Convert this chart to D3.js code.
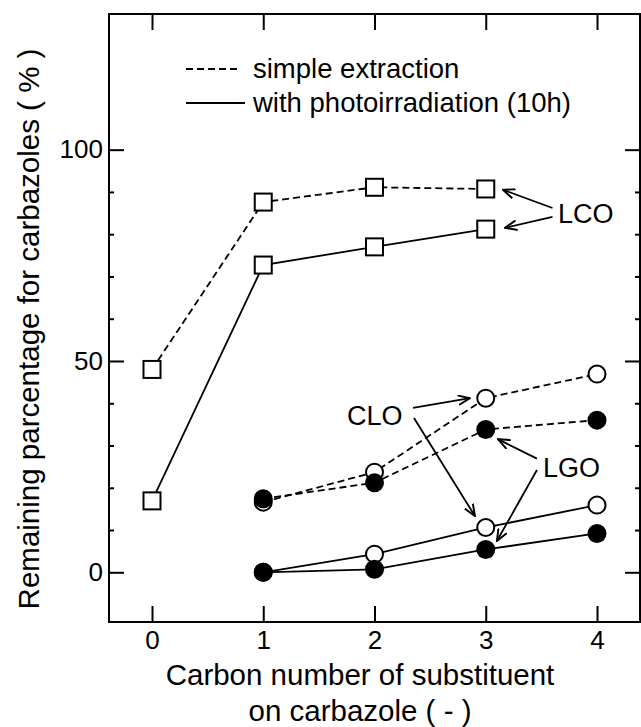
<!DOCTYPE html>
<html>
<head>
<meta charset="utf-8">
<script src="https://cdn.jsdelivr.net/npm/d3@7"></script>
<style>
  body { margin: 0; background: #fff; }
  svg { display: block; font-family: Arial, "Liberation Sans", Helvetica, sans-serif; }
</style>
</head>
<body>
<div id="chart"></div>
<script>
// Carbon number of substituent on carbazole
const lcoCarbons = [0, 1, 2, 3];
const alkylCarbons = [1, 2, 3, 4];

// LCO (squares)
const lcoSimple = [48.0, 87.6, 91.1, 90.7];
const lcoPhoto  = [16.9, 72.7, 77.0, 81.2];
// CLO (open circles)
const cloSimple = [16.6, 23.7, 41.2, 46.9];
const cloPhoto  = [0.0, 4.3, 10.6, 15.9];
// LGO (filled circles)
const lgoSimple = [17.4, 21.2, 33.8, 36.0];
const lgoPhoto  = [0.0, 0.7, 5.4, 9.2];

const xTicks = [0, 1, 2, 3, 4];
const yMajorTicks = [0, 50, 100];
const yMinorTicks = [10, 20, 30, 40, 60, 70, 80, 90];

const legendLabels = ['simple extraction', 'with photoirradiation (10h)'];

// annotation labels and arrows, in data units
const notes = [
    {text: 'LCO', x: 3.65, y: 82.7},
    {text: 'CLO', x: 1.753, y: 34.9},
    {text: 'LGO', x: 3.515, y: 22.6}
];
const arrows = [
    [3.60, 86.2, 3.155, 90.5],
    [3.60, 84.1, 3.173, 81.5],
    [2.346, 38.9, 2.858, 41.2],
    [2.355, 36.5, 2.903, 13.3],
    [3.46, 26.9, 3.11, 31.5],
    [3.46, 24.2, 3.10, 7.4]
];

const margin = {top: 14, right: 1, bottom: 105, left: 109};
const width = 641 - margin.left - margin.right;
const height = 727 - margin.top - margin.bottom;

const svg = d3.select('#chart')
    .append('svg')
    .attr('width', 641)
    .attr('height', 727);

const g = svg.append('g')
    .attr('transform', `translate(${margin.left},${margin.top})`);

const x = d3.scaleLinear().domain([-0.3865, 4.3865]).range([0, width]);
const y = d3.scaleLinear().domain([-11.76, 132.1]).range([height, 0]);

// arrowhead
svg.append('defs').append('marker')
    .attr('id', 'arrow')
    .attr('viewBox', '0 -5 12 10')
    .attr('refX', 11)
    .attr('refY', 0)
    .attr('markerUnits', 'userSpaceOnUse')
    .attr('markerWidth', 13)
    .attr('markerHeight', 11)
    .attr('orient', 'auto')
    .append('path')
    .attr('d', 'M0,-4.5L11,0L0,4.5')
    .attr('fill', 'none')
    .attr('stroke', '#000')
    .attr('stroke-width', 1.8);

// Axes (ticks point inward)
function styleAxis(sel) {
    sel.select('.domain').remove();
    sel.selectAll('.tick line').attr('stroke', '#000').attr('stroke-width', 2);
    sel.selectAll('.tick text').attr('fill', '#000').style('font-size', '26px');
}

g.append('g')
    .attr('transform', `translate(0,${height})`)
    .call(d3.axisBottom(x).tickValues(xTicks).tickSize(-16).tickPadding(9).tickFormat(d3.format('d')))
    .call(styleAxis);

g.append('g')
    .call(d3.axisTop(x).tickValues(xTicks).tickSize(-16).tickFormat(''))
    .call(styleAxis);

g.append('g')
    .call(d3.axisLeft(y).tickValues(yMajorTicks).tickSize(-15).tickPadding(6).tickFormat(d3.format('d')))
    .call(styleAxis);

g.append('g')
    .call(d3.axisLeft(y).tickValues(yMinorTicks).tickSize(-5).tickFormat(''))
    .call(styleAxis);

g.append('g')
    .attr('transform', `translate(${width},0)`)
    .call(d3.axisRight(y).tickValues(yMajorTicks).tickSize(-15).tickFormat(''))
    .call(styleAxis);

g.append('g')
    .attr('transform', `translate(${width},0)`)
    .call(d3.axisRight(y).tickValues(yMinorTicks).tickSize(-5).tickFormat(''))
    .call(styleAxis);

// frame
g.append('rect')
    .attr('width', width)
    .attr('height', height)
    .attr('fill', 'none')
    .attr('stroke', '#000')
    .attr('stroke-width', 2);

// Labels
svg.append('text')
    .attr('x', 360)
    .attr('y', 685)
    .attr('text-anchor', 'middle')
    .style('font-size', '29.5px')
    .text('Carbon number of substituent');

svg.append('text')
    .attr('x', 360)
    .attr('y', 721)
    .attr('text-anchor', 'middle')
    .style('font-size', '29.5px')
    .text('on carbazole ( - )');

svg.append('text')
    .attr('transform', 'rotate(-90)')
    .attr('x', -329)
    .attr('y', 39)
    .attr('text-anchor', 'middle')
    .style('font-size', '29.5px')
    .text('Remaining parcentage for carbazoles ( % )');

// series
const series = [
    {vals: lcoSimple, xs: lcoCarbons, dash: true, shape: 'square'},
    {vals: lcoPhoto, xs: lcoCarbons, dash: false, shape: 'square'},
    {vals: cloSimple, xs: alkylCarbons, dash: true, shape: 'open'},
    {vals: cloPhoto, xs: alkylCarbons, dash: false, shape: 'open'},
    {vals: lgoSimple, xs: alkylCarbons, dash: true, shape: 'filled'},
    {vals: lgoPhoto, xs: alkylCarbons, dash: false, shape: 'filled'}
];

const line = d3.line()
    .x(d => x(d[0]))
    .y(d => y(d[1]));

series.forEach(s => {
    const pts = s.xs.map((c, i) => [c, s.vals[i]]);
    g.append('path')
        .datum(pts)
        .attr('d', line)
        .attr('fill', 'none')
        .attr('stroke', '#000')
        .attr('stroke-width', 1.8)
        .attr('stroke-dasharray', s.dash ? '7,4' : null);
    s.pts = pts;
});

// markers: squares, then open circles, then filled on top
['square', 'open', 'filled'].forEach(shape => {
    series.filter(s => s.shape === shape).forEach(s => {
        if (shape === 'square') {
            g.selectAll(null)
                .data(s.pts)
                .enter()
                .append('rect')
                .attr('x', d => x(d[0]) - 8.5)
                .attr('y', d => y(d[1]) - 8.5)
                .attr('width', 17)
                .attr('height', 17)
                .attr('fill', '#fff')
                .attr('stroke', '#000')
                .attr('stroke-width', 2);
        } else {
            g.selectAll(null)
                .data(s.pts)
                .enter()
                .append('circle')
                .attr('cx', d => x(d[0]))
                .attr('cy', d => y(d[1]))
                .attr('r', shape === 'open' ? 8.5 : 9.5)
                .attr('fill', shape === 'open' ? '#fff' : '#000')
                .attr('stroke', '#000')
                .attr('stroke-width', shape === 'open' ? 2 : 0);
        }
    });
});

// annotations
notes.forEach(n => {
    g.append('text')
        .attr('x', x(n.x))
        .attr('y', y(n.y))
        .style('font-size', '27px')
        .text(n.text);
});

arrows.forEach(a => {
    g.append('line')
        .attr('x1', x(a[0]))
        .attr('y1', y(a[1]))
        .attr('x2', x(a[2]))
        .attr('y2', y(a[3]))
        .attr('stroke', '#000')
        .attr('stroke-width', 1.8)
        .attr('marker-end', 'url(#arrow)');
});

// legend
const legend = g.append('g');
legendLabels.forEach((label, i) => {
    legend.append('line')
        .attr('x1', 186 - margin.left)
        .attr('x2', (i === 0 ? 240 : 245) - margin.left)
        .attr('y1', 69 + i * 34 - margin.top)
        .attr('y2', 69 + i * 34 - margin.top)
        .attr('stroke', '#000')
        .attr('stroke-width', 1.8)
        .attr('stroke-dasharray', i === 0 ? '7,4' : null);
    legend.append('text')
        .attr('x', 253 - margin.left)
        .attr('y', 78 + i * 34 - margin.top)
        .style('font-size', '27.5px')
        .text(label);
});
</script>
</body>
</html>
